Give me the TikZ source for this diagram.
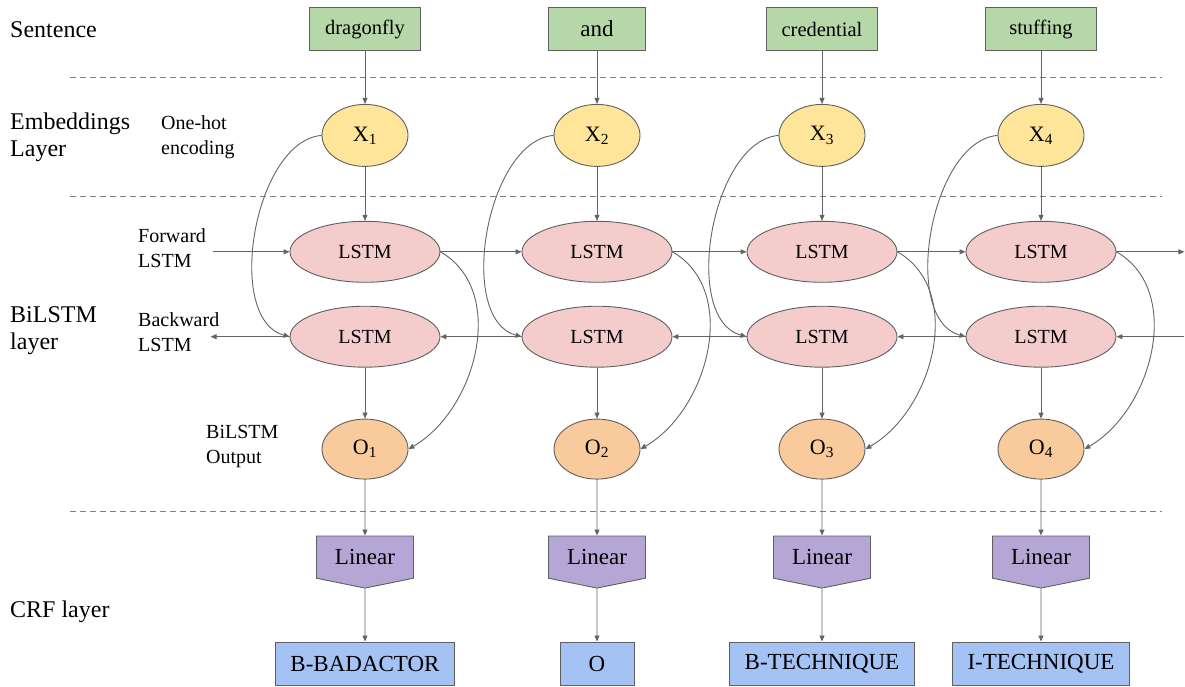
\documentclass[tikz,border=0pt]{standalone}
\usepackage{fontspec}
\setmainfont{Liberation Serif}
\usetikzlibrary{arrows.meta,shapes.geometric,shapes.symbols}
\usetikzlibrary{positioning}
\definecolor{wordgreen}{HTML}{B6D7A8}
\definecolor{embyellow}{HTML}{FFE599}
\definecolor{lstmpink}{HTML}{F4CCCC}
\definecolor{outorange}{HTML}{F9CB9C}
\definecolor{linpurple}{HTML}{B4A7D6}
\definecolor{tagblue}{HTML}{A4C2F4}
\definecolor{edgegray}{HTML}{5F5F5F}
\definecolor{wiregray}{HTML}{646464}
\tikzset{
    word/.style={
           rectangle,
           draw=edgegray, line width=0.9pt,
           fill=wordgreen,
           minimum width=111pt, minimum height=43pt,
           font=\fontsize{20.5}{24}\selectfont,
           },
}
\tikzset{
    embed/.style={
           ellipse,
           draw=edgegray, line width=0.9pt,
           fill=embyellow,
           minimum width=86pt, minimum height=62pt,
           font=\fontsize{22}{24}\selectfont,
           },
    lstm/.style={
           ellipse,
           draw=edgegray, line width=0.9pt,
           fill=lstmpink,
           minimum width=150pt, minimum height=61pt,
           font=\fontsize{20}{24}\selectfont,
           },
    outp/.style={
           ellipse,
           draw=edgegray, line width=0.9pt,
           fill=outorange,
           minimum width=86pt, minimum height=60pt,
           font=\fontsize{22}{24}\selectfont,
           },
    linear/.style={
           signal, signal to=south, signal pointer angle=157,
           draw=edgegray, line width=0.9pt,
           fill=linpurple,
           minimum width=97pt, minimum height=49pt,
           font=\fontsize{23}{26}\selectfont,
           },
    tag/.style={
           rectangle,
           draw=edgegray, line width=0.9pt,
           fill=tagblue,
           inner xsep=15pt,
           minimum width=74pt, minimum height=43pt,
           font=\fontsize{23}{26}\selectfont,
           },
    layer/.style={anchor=west, align=left, inner sep=0pt,
           font=\fontsize{24}{27}\selectfont},
    note/.style={anchor=west, align=left, inner sep=0pt,
           font=\fontsize{20}{25}\selectfont},
    conn/.style={draw=wiregray, line width=0.9pt,
           -{Triangle[length=6pt,width=5pt]}},
    sep/.style={draw=gray, line width=0.9pt, dash pattern=on 6pt off 4pt},
}

\begin{document}
\begin{tikzpicture}[x=1pt,y=-1pt]
\useasboundingbox (0,0) rectangle (1185,687);

% layer names on the left
\node[layer] (sen) at (10,30) {Sentence};
\node[layer] (emb) at (10,137) {Embeddings\\Layer};
\node[layer] (bil) at (10,331) {BiLSTM\\layer};
\node[layer] (crf) at (10,612) {CRF layer};
\node[note] (hot) at (161,137) {One-hot\\encoding};
\node[note] (fwd) at (138,248) {Forward\\LSTM};
\node[note] (bwd) at (138,332) {Backward\\LSTM};
\node[note] (out) at (206,447) {BiLSTM\\Output};

% separators
\draw[sep] (70,77) -- (1162,77);
\draw[sep] (70,196) -- (1162,196);
\draw[sep] (70,511) -- (1162,511);

% sentence
\node[word] (w1) at (365,29) {dragonfly};
\node[word,minimum width=97pt,font=\fontsize{23}{26}\selectfont] (w2) at (597,29) {and};
\node[word] (w3) at (822,29) {credential};
\node[word] (w4) at (1041,29) {stuffing};

% embeddings
\node[embed,below=53pt of w1](x1){X\textsubscript{1}};
\node[embed,below=53pt of w2](x2){X\textsubscript{2}};
\node[embed,below=53pt of w3](x3){X\textsubscript{3}};
\node[embed,below=53pt of w4](x4){X\textsubscript{4}};

% forward and backward LSTM
\node[lstm,below=54pt of x1](f1){LSTM};
\node[lstm,below=54pt of x2](f2){LSTM};
\node[lstm,below=54pt of x3](f3){LSTM};
\node[lstm,below=54pt of x4](f4){LSTM};
\node[lstm,below=23pt of f1](b1){LSTM};
\node[lstm,below=23pt of f2](b2){LSTM};
\node[lstm,below=23pt of f3](b3){LSTM};
\node[lstm,below=23pt of f4](b4){LSTM};

% outputs
\node[outp,below=51pt of b1](o1){O\textsubscript{1}};
\node[outp,below=51pt of b2](o2){O\textsubscript{2}};
\node[outp,below=51pt of b3](o3){O\textsubscript{3}};
\node[outp,below=51pt of b4](o4){O\textsubscript{4}};

% CRF
\node[linear,below=56pt of o1](l1){Linear};
\node[linear,below=56pt of o2](l2){Linear};
\node[linear,below=56pt of o3](l3){Linear};
\node[linear,below=56pt of o4](l4){Linear};
\node[tag,below=53pt of l1](t1){B-BADACTOR};
\node[tag,below=53pt of l2](t2){O};
\node[tag,below=53pt of l3](t3){B-TECHNIQUE};
\node[tag,below=53pt of l4](t4){I-TECHNIQUE};

\coordinate[left=77pt of f1] (fin);
\coordinate[right=68pt of f4] (fout);
\coordinate[right=68pt of b4] (bin);
\coordinate[left=79pt of b1] (bout);

% vertical arrows
\draw[conn] (w1) -- (x1);
\draw[conn] (w2) -- (x2);
\draw[conn] (w3) -- (x3);
\draw[conn] (w4) -- (x4);
\draw[conn] (x1) -- (f1);
\draw[conn] (x2) -- (f2);
\draw[conn] (x3) -- (f3);
\draw[conn] (x4) -- (f4);
\draw[conn] (b1) -- (o1);
\draw[conn] (b2) -- (o2);
\draw[conn] (b3) -- (o3);
\draw[conn] (b4) -- (o4);
\draw[conn] (o1) -- (l1);
\draw[conn] (o2) -- (l2);
\draw[conn] (o3) -- (l3);
\draw[conn] (o4) -- (l4);
\draw[conn] (l1) -- (t1);
\draw[conn] (l2) -- (t2);
\draw[conn] (l3) -- (t3);
\draw[conn] (l4) -- (t4);

% forward chain
\draw[conn] (fin) -- (f1);
\draw[conn] (f1) -- (f2);
\draw[conn] (f2) -- (f3);
\draw[conn] (f3) -- (f4);
\draw[conn] (f4) -- (fout);
% backward chain
\draw[conn] (bin) -- (b4);
\draw[conn] (b4) -- (b3);
\draw[conn] (b3) -- (b2);
\draw[conn] (b2) -- (b1);
\draw[conn] (b1) -- (bout);

% embeddings into the backward LSTM
\draw[conn] (x1.west) to[out=185,in=165,looseness=0.85] (b1.west);
\draw[conn] (x2.west) to[out=185,in=165,looseness=0.85] (b2.west);
\draw[conn] (x3.west) to[out=185,in=165,looseness=0.85] (b3.west);
\draw[conn] (x4.west) to[out=185,in=165,looseness=0.85] (b4.west);
% forward LSTM into the outputs
\draw[conn] (f1.east) to[out=-30,in=30] (o1.east);
\draw[conn] (f2.east) to[out=-30,in=30] (o2.east);
\draw[conn] (f3.east) to[out=-30,in=30] (o3.east);
\draw[conn] (f4.east) to[out=-30,in=30] (o4.east);
\end{tikzpicture}
\end{document}
